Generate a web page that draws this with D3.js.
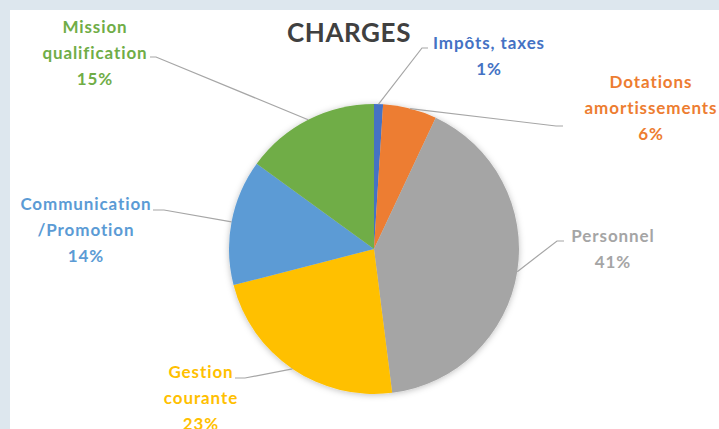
<!DOCTYPE html>
<meta charset="utf-8">
<head>
<style>
body { margin: 0; background: #dde7ee; }
svg { display: block; }
.title { font: bold 26px Lato, sans-serif; fill: #404040; letter-spacing: 0.6px; }
.lbl { font: bold 17px Lato, sans-serif; letter-spacing: 0.9px; }
.leader { fill: none; stroke: #a6a6a6; stroke-width: 1.2px; }
</style>
</head>
<body>
<svg></svg>
<script src="https://d3js.org/d3.v7.min.js"></script>
<script>
// data
var categories = ["Impôts, taxes", "Dotations amortissements", "Personnel", "Gestion courante", "Communication /Promotion", "Mission qualification"];
var values = [1, 6, 41, 23, 14, 15];
var labelLines = [["Impôts, taxes"], ["Dotations", "amortissements"], ["Personnel"], ["Gestion", "courante"], ["Communication", "/Promotion"], ["Mission", "qualification"]];
var colors = ["#4472c4", "#ed7d31", "#a5a5a5", "#ffc000", "#5b9bd5", "#70ad47"];

// label layout: text centre x, first line y, leader anchor and elbow
var labelPos = [
  {x: 489, y: 49, ax: 428, ay: 48, ex: 422},
  {x: 651, y: 88, ax: 563, ay: 126, ex: 556},
  {x: 613, y: 242, ax: 564, ay: 241, ex: 557},
  {x: 201, y: 378, ax: 235, ay: 378, ex: 245},
  {x: 86, y: 210, ax: 153, ay: 210, ex: 164},
  {x: 95, y: 33, ax: 150, ay: 57, ex: 156}
];

var W = 719, H = 429;
var cx = 374, cy = 249, r = 145;
var lineH = 26;

var svg = d3.select('svg').attr('width', W).attr('height', H);

svg.append('rect').attr('x', 0).attr('y', 0).attr('width', W).attr('height', H).attr('fill', '#dde7ee');
svg.append('rect').attr('x', 10).attr('y', 10).attr('width', W - 10).attr('height', H - 10).attr('fill', '#ffffff');

var defs = svg.append('defs');
var f = defs.append('filter').attr('id', 'shadow').attr('x', '-20%').attr('y', '-20%').attr('width', '140%').attr('height', '140%');
f.append('feDropShadow').attr('dx', 0).attr('dy', 1).attr('stdDeviation', 3).attr('flood-color', '#000').attr('flood-opacity', 0.25);

svg.append('text').attr('class', 'title')
  .attr('x', 349).attr('y', 42)
  .attr('text-anchor', 'middle')
  .text('CHARGES');

var total = d3.sum(values);
var pie = d3.pie().sort(null).value(function (d) { return d; });
var arcs = pie(values);
var arc = d3.arc().innerRadius(0).outerRadius(r);

var g = svg.append('g').attr('transform', 'translate(' + cx + ',' + cy + ')');
g.append('g').attr('filter', 'url(#shadow)')
  .selectAll('path')
  .data(arcs)
  .enter().append('path')
  .attr('d', arc)
  .attr('fill', function (d, i) { return colors[i]; })
  .attr('stroke', 'none');

// leader lines from the slice mid angle on the rim
arcs.forEach(function (d, i) {
  var a = (d.startAngle + d.endAngle) / 2;
  var px = cx + r * Math.sin(a), py = cy - r * Math.cos(a);
  var p = labelPos[i];
  svg.append('path').attr('class', 'leader')
    .attr('d', 'M' + p.ax + ',' + p.ay + 'L' + p.ex + ',' + p.ay + 'L' + px + ',' + py);
});

// labels
arcs.forEach(function (d, i) {
  var p = labelPos[i];
  var lines = labelLines[i].concat([Math.round(d.data / total * 100) + '%']);
  var t = svg.append('text').attr('class', 'lbl')
    .attr('text-anchor', 'middle')
    .attr('fill', colors[i]);
  lines.forEach(function (s, k) {
    t.append('tspan').attr('x', p.x).attr('y', p.y + k * lineH).text(s);
  });
});
</script>
</body>
</html>
